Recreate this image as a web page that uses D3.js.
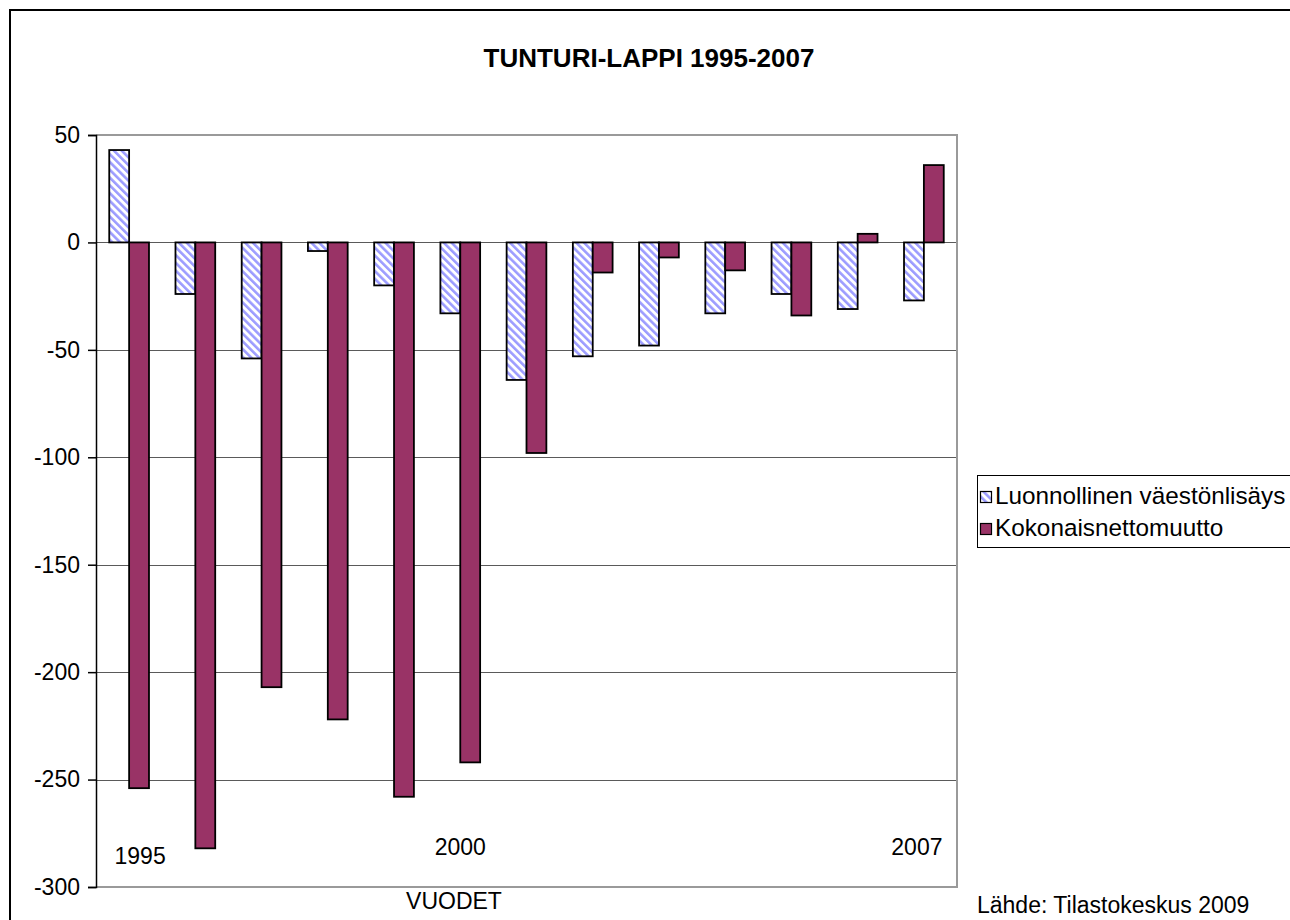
<!DOCTYPE html>
<html>
<head>
<meta charset="utf-8">
<script src="https://cdn.jsdelivr.net/npm/d3@7"></script>
<style>
  html, body { margin: 0; padding: 0; background: #fff; }
  svg { display: block; font-family: Arial, "Liberation Sans", sans-serif; }
</style>
</head>
<body>
<svg id="chart" width="1290" height="920"></svg>
<script>
// ---- Data ----
const years = ["1995","1996","1997","1998","1999","2000","2001","2002","2003","2004","2005","2006","2007"];
const natural = [43, -24, -54, -4, -20, -33, -64, -53, -48, -33, -24, -31, -27];
const netMigration = [-254, -282, -207, -222, -258, -242, -98, -14, -7, -13, -34, 4, 36];
const seriesNames = ["Luonnollinen väestönlisäys", "Kokonaisnettomuutto"];
const yTicks = [50, 0, -50, -100, -150, -200, -250, -300];
const yearMarks = ["1995", "2000", "2007"];
const titleText = "TUNTURI-LAPPI 1995-2007";
const xAxisTitle = "VUODET";
const sourceText = "Lähde: Tilastokeskus 2009";

// ---- Layout ----
const W = 1290, H = 920;
const plot = { left: 96, right: 957, top: 135, bottom: 887 };
const maroon = "#993366";
const stripe = "#9c9cff";
const yearMarkDx = { "1995": 11, "2000": 0, "2007": -7 };
const yearMarkY = { "1995": 864, "2000": 855, "2007": 855 };

const svg = d3.select("#chart");

// pattern
const defs = svg.append("defs");
const pat = defs.append("pattern")
  .attr("id", "hatch")
  .attr("patternUnits", "userSpaceOnUse")
  .attr("width", 5.5).attr("height", 5.5)
  .attr("patternTransform", "rotate(-45)");
pat.append("rect").attr("width", 5.5).attr("height", 5.5).attr("fill", "#fff");
pat.append("rect").attr("width", 2.6).attr("height", 5.5).attr("fill", stripe);

// outer frame
svg.append("rect")
  .attr("x", 10).attr("y", 10)
  .attr("width", W + 20).attr("height", H + 20)
  .attr("fill", "#fff").attr("stroke", "#000").attr("stroke-width", 2);

// scales
const x = d3.scaleBand().domain(years)
  .range([plot.left, plot.right]).paddingInner(0.4).paddingOuter(0.2);
const x1 = d3.scaleBand().domain([0, 1]).range([0, x.bandwidth()]);
const y = d3.scaleLinear().domain([-300, 50]).range([plot.bottom, plot.top]);

// gridlines
svg.append("g").selectAll("line")
  .data(yTicks.filter(t => t !== 50 && t !== -300))
  .join("line")
  .attr("x1", plot.left).attr("x2", plot.right)
  .attr("y1", d => Math.round(y(d)) + 0.5).attr("y2", d => Math.round(y(d)) + 0.5)
  .attr("stroke", "#5a5a5a").attr("stroke-width", 1);

// plot border (top, right, bottom)
svg.append("path")
  .attr("d", `M${plot.left},${y(50)}H${plot.right}V${y(-300)}H${plot.left}`)
  .attr("fill", "none").attr("stroke", "#9a9a9a").attr("stroke-width", 2);

// bars
const groups = svg.append("g").selectAll("g")
  .data(years)
  .join("g")
  .attr("transform", d => `translate(${x(d)},0)`);

groups.append("rect")
  .attr("x", x1(0))
  .attr("width", x1.bandwidth())
  .attr("y", (d, i) => y(Math.max(0, natural[i])))
  .attr("height", (d, i) => Math.abs(y(natural[i]) - y(0)))
  .attr("fill", "url(#hatch)")
  .attr("stroke", "#000").attr("stroke-width", 1.8);

groups.append("rect")
  .attr("x", x1(1))
  .attr("width", x1.bandwidth())
  .attr("y", (d, i) => y(Math.max(0, netMigration[i])))
  .attr("height", (d, i) => Math.abs(y(netMigration[i]) - y(0)))
  .attr("fill", maroon)
  .attr("stroke", "#000").attr("stroke-width", 1.8);

// y axis
const yAxis = d3.axisLeft(y).tickValues(yTicks).tickSize(8).tickPadding(8)
  .tickFormat(d3.format("d"));
const gy = svg.append("g").attr("transform", `translate(${plot.left},0)`).call(yAxis);
gy.select(".domain").attr("stroke", "#000").attr("stroke-width", 1.5);
gy.selectAll(".tick line").attr("stroke", "#000").attr("stroke-width", 1.5);
gy.selectAll(".tick text")
  .attr("font-size", 23).attr("fill", "#000")
  .attr("font-family", "Arial, 'Liberation Sans', sans-serif")
  .text(d => d < 0 ? "-" + Math.abs(d) : d);

// year marks inside plot
svg.append("g").selectAll("text")
  .data(yearMarks)
  .join("text")
  .attr("x", d => x(d) + x.bandwidth() / 2 + yearMarkDx[d])
  .attr("y", d => yearMarkY[d])
  .attr("text-anchor", "middle")
  .attr("font-size", 23)
  .text(d => d);

// title
svg.append("text")
  .attr("x", 649).attr("y", 67)
  .attr("text-anchor", "middle")
  .attr("font-size", 26).attr("font-weight", "bold")
  .text(titleText);

// x axis title
svg.append("text")
  .attr("x", 454).attr("y", 909)
  .attr("text-anchor", "middle")
  .attr("font-size", 23)
  .text(xAxisTitle);

// source
svg.append("text")
  .attr("x", 977).attr("y", 913)
  .attr("font-size", 23)
  .text(sourceText);

// legend
const lg = svg.append("g");
lg.append("rect")
  .attr("x", 977.5).attr("y", 475.5)
  .attr("width", 400).attr("height", 72)
  .attr("fill", "#fff").attr("stroke", "#000").attr("stroke-width", 1);
const items = lg.selectAll("g.item")
  .data(seriesNames)
  .join("g").attr("class", "item")
  .attr("transform", (d, i) => `translate(0,${i * 32})`);
items.append("rect")
  .attr("x", 980.5).attr("y", 491.5)
  .attr("width", 11).attr("height", 11)
  .attr("fill", (d, i) => i === 0 ? "url(#hatch)" : maroon)
  .attr("stroke", "#000").attr("stroke-width", 1.2);
items.append("text")
  .attr("x", 995).attr("y", 504)
  .attr("font-size", 24.3)
  .text(d => d);
</script>
</body>
</html>
